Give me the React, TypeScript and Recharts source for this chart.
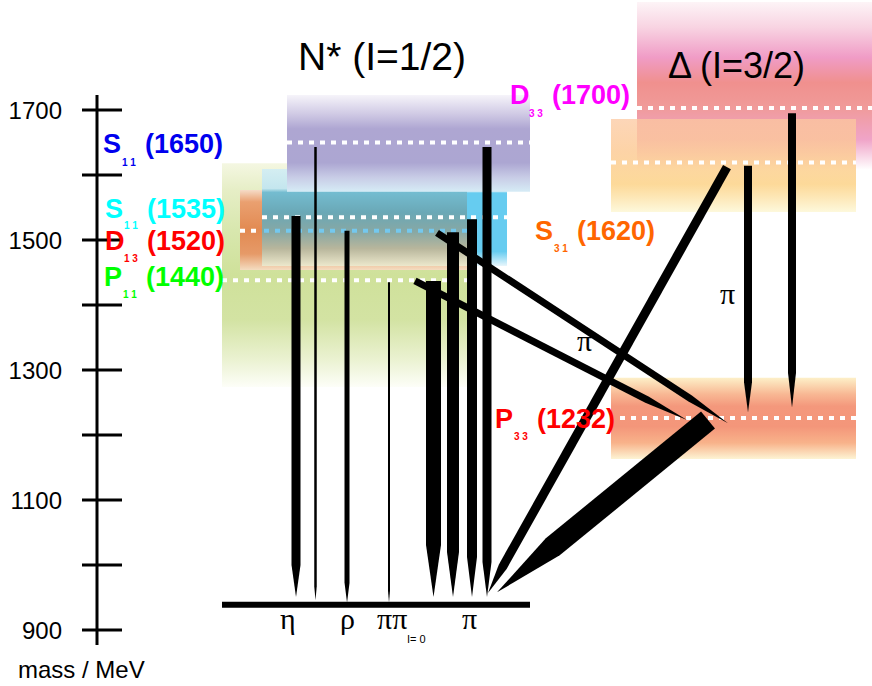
import React from 'react';
import { ComposedChart, XAxis, YAxis, ReferenceArea, ReferenceLine } from 'recharts';

// N* resonances (I=1/2): drawn centre mass and band edges, MeV
const nStarNames = ['S11(1650)', 'S11(1535)', 'D13(1520)', 'P11(1440)'];
const nStarMass = [1650, 1535, 1514, 1438];
const nStarLow = [1574, 1460, 1454, 1274];
const nStarHigh = [1723, 1609, 1577, 1618];
const nStarColors = ['#0000ee', '#00ffff', '#ff0000', '#00ff00'];

// Δ resonances (I=3/2)
const deltaNames = ['D33(1700)', 'S31(1620)', 'P33(1232)'];
const deltaMass = [1703, 1619, 1226];
const deltaLow = [1608, 1543, 1163];
const deltaHigh = [1866, 1686, 1288];
const deltaColors = ['#ff00ff', '#ff6600', '#ff0000'];

const nucleonMass = 939;
const massTicks = [900, 1000, 1100, 1200, 1300, 1400, 1500, 1600, 1700];
const massTickLabels = [900, 1100, 1300, 1500, 1700];

// decay arrows: start mass -> mass at the arrow tip
const decayNames = [
  'S11(1535)→Nη', 'S11(1650)→Nη', 'D13→Nρ', 'P11→N(ππ)', 'P11→Nπ', 'D13→Nπ', 'S11(1535)→Nπ',
  'S11(1650)→Nπ', 'D13→Δπ', 'P11→Δπ', 'S31→Nπ', 'P33→Nπ', 'S31→Δπ', 'D33→Δπ',
];
const decayFrom = [1537, 1643, 1514, 1435, 1437, 1512, 1532, 1643, 1511, 1437, 1612, 1223, 1614, 1695];
const decayTo = [951, 946, 942, 942, 951, 951, 951, 951, 1218, 1223, 957, 958, 1235, 1242];
const mesonLabels = ['η', 'ρ', 'ππ', 'π'];

// ---- layout (pixels along the horizontal, which has no physical meaning) ----
const W = 872;
const H = 686;
const AXIS_X = 97;

const bandParts = [
  { x: [222, 467], grad: 'gP11', i: 3 },
  { x: [240, 467], grad: 'gD13', i: 2 },
  { x: [262, 467], grad: 'gS1535mix', i: 1 },
  { x: [467, 507], grad: 'gS1535', i: 1 },
  { x: [287, 530], grad: 'gS1650', i: 0 },
];
const deltaBandX = [[637, 872], [611, 856], [611, 856]];
const deltaGrad = ['gD33', 'gS31', 'gP33'];
const nStarLineX = [[287, 530], [262, 507], [240, 262], [222, 467]];
const deltaLineX = [[637, 872], [611, 856], [620, 856]];
const nStarLabelPos = [[103, 153, 13], [105, 218, 11], [105, 250, 12], [104, 286, 12]];
const deltaLabelPos = [[510, 104, 13], [535, 240, 12], [495, 428, 12]];

const decayLayout = [
  { x1: 296, x2: 296, w: 9, t: 32 },
  { x1: 315.5, x2: 315.5, w: 2.5, t: 14 },
  { x1: 347, x2: 347, w: 5, t: 20 },
  { x1: 389, x2: 389, w: 2, t: 12 },
  { x1: 433.5, x2: 433.5, w: 15, t: 52 },
  { x1: 453, x2: 453, w: 12, t: 45 },
  { x1: 472, x2: 472, w: 10, t: 40 },
  { x1: 487, x2: 487, w: 9, t: 35 },
  { x1: 437, x2: 728, w: 7, t: 45 },
  { x1: 415, x2: 687, w: 7, t: 45 },
  { x1: 727, x2: 488, w: 9, t: 30 },
  { x1: 708, x2: 497, w: 22, t: 72 },
  { x1: 748, x2: 748, w: 8, t: 30 },
  { x1: 792, x2: 792, w: 8, t: 35 },
];

const SANS = 'Liberation Sans, Arial, sans-serif';
const SERIF = 'Liberation Serif, Times New Roman, serif';

const gradients: Record<string, [number, string, number?][]> = {
  gP11: [[0, '#f4f7e2'], [0.12, '#e6eec6'], [0.3, '#d8e7ae'], [0.5, '#cfe19a'], [0.7, '#d3e3a3'], [0.88, '#ebf2d2'], [1, '#fdfef8']],
  gD13: [[0, '#f5dcc8'], [0.15, '#eaa070'], [0.5, '#e28a52'], [0.8, '#e69a68'], [1, '#f4dcc0']],
  gS1535mix: [[0, '#d4eef2'], [0.2, '#c4e6ee'], [0.24, '#74bcd0'], [0.45, '#6aa8b6'], [0.65, '#88a8a4'], [0.82, '#b8b69c'], [1, '#ece8cc']],
  gS1535: [[0, '#d8f0f8'], [0.22, '#c8e8f4'], [0.25, '#66ccf0'], [0.85, '#66ccf0'], [1, '#e8f6fc']],
  gS1650: [[0, '#f6f4fa'], [0.2, '#cfc9e4'], [0.35, '#aea6d2'], [0.7, '#aca6d2'], [0.85, '#c8cce6'], [1, '#d6ecf6']],
  gD33: [[0, '#fdf4f7'], [0.15, '#f8d4e2'], [0.33, '#f09cc6'], [0.48, '#f0908e'], [0.62, '#f09a98'], [0.82, '#f0a4c8'], [1, '#ffffff']],
  gS31: [[0, '#fcc8a0', 0.75], [0.35, '#fcc890', 0.8], [0.7, '#fcd080', 0.8], [1, '#fdf8d8', 0.9]],
  gP33: [[0, '#fdf0c8'], [0.2, '#f8b894'], [0.35, '#f4987c'], [0.6, '#f4967a'], [0.8, '#f8b28a'], [1, '#fdf4d4']],
};

const taperedArrow = (w: number, taper: number) => (p: any) => {
  const { x1, y1, x2, y2 } = p;
  const dx = x2 - x1;
  const dy = y2 - y1;
  const len = Math.hypot(dx, dy) || 1;
  const ux = dx / len;
  const uy = dy / len;
  const nx = (-uy * w) / 2;
  const ny = (ux * w) / 2;
  const bx = x2 - ux * taper;
  const by = y2 - uy * taper;
  const pts = [
    [x1 + nx, y1 + ny], [bx + nx, by + ny], [x2, y2], [bx - nx, by - ny], [x1 - nx, y1 - ny],
  ];
  return <polygon points={pts.map(q => q.join(',')).join(' ')} fill="#000" />;
};

const MassTick = (props: any) => {
  const { x, y, payload } = props;
  const v = payload.value;
  return (
    <g>
      <line x1={x - 15} x2={x + 25} y1={y} y2={y} stroke="#000" strokeWidth={3} />
      {massTickLabels.includes(v) && (
        <text x={x - 35} y={y} dy="0.36em" textAnchor="end" fontSize={24} fontFamily={SANS} fill="#000">
          {v}
        </text>
      )}
    </g>
  );
};

const ResonanceLabel = ({ name, color, x, y, subDy }: any) => {
  const letter = name[0];
  const sub = name.slice(1, 3).split('').join(' ');
  const mass = name.slice(3);
  return (
    <g fill={color} fontFamily={SANS} fontWeight="bold">
      <text x={x} y={y} fontSize={27}>{letter}</text>
      <text x={x + 19} y={y + subDy} fontSize={10}>{sub}</text>
      <text x={x + 42} y={y} fontSize={27}>{mass}</text>
    </g>
  );
};

export default function App() {
  return (
    <div style={{ position: 'absolute', left: 0, top: 0, width: W, height: H, background: '#fff' }}>
      <ComposedChart width={W} height={H} margin={{ top: 95, right: 0, bottom: 41, left: 0 }}>
        <defs>
          {Object.keys(gradients).map(id => (
            <linearGradient key={id} id={id} x1="0" y1="0" x2="0" y2="1">
              {gradients[id].map(([o, c, op], k) => (
                <stop key={k} offset={o} stopColor={c} stopOpacity={op ?? 1} />
              ))}
            </linearGradient>
          ))}
        </defs>
        <XAxis type="number" dataKey="x" domain={[AXIS_X, W]} allowDataOverflow hide />
        <YAxis
          type="number"
          domain={[877, 1723]}
          allowDataOverflow
          ticks={massTicks}
          interval={0}
          width={AXIS_X}
          tickSize={0}
          tickMargin={0}
          tickLine={false}
          axisLine={{ stroke: '#000', strokeWidth: 3 }}
          tick={<MassTick />}
        />

        {/* resonance bands */}
        {bandParts.map((b, k) => (
          <ReferenceArea
            key={`nb${k}`}
            x1={b.x[0]}
            x2={b.x[1]}
            y1={nStarLow[b.i]}
            y2={nStarHigh[b.i]}
            fill={`url(#${b.grad})`}
            fillOpacity={1}
            stroke="none"
            ifOverflow="visible"
          />
        ))}
        {deltaNames.map((n, i) => (
          <ReferenceArea
            key={`db${n}`}
            x1={deltaBandX[i][0]}
            x2={deltaBandX[i][1]}
            y1={deltaLow[i]}
            y2={deltaHigh[i]}
            fill={`url(#${deltaGrad[i]})`}
            fillOpacity={1}
            stroke="none"
            ifOverflow="visible"
          />
        ))}

        {/* pole positions */}
        {nStarNames.map((n, i) => (
          <ReferenceLine
            key={`nl${n}`}
            segment={[{ x: nStarLineX[i][0], y: nStarMass[i] }, { x: nStarLineX[i][1], y: nStarMass[i] }]}
            stroke="#fff"
            strokeWidth={4}
            strokeDasharray="5 6"
            ifOverflow="visible"
          />
        ))}
        <ReferenceLine
          segment={[{ x: 264, y: nStarMass[2] }, { x: 480, y: nStarMass[2] }]}
          stroke="#74c8ee"
          strokeWidth={4}
          strokeDasharray="5 6"
          ifOverflow="visible"
        />
        {deltaNames.map((n, i) => (
          <ReferenceLine
            key={`dl${n}`}
            segment={[{ x: deltaLineX[i][0], y: deltaMass[i] }, { x: deltaLineX[i][1], y: deltaMass[i] }]}
            stroke="#fff"
            strokeWidth={4}
            strokeDasharray="5 6"
            ifOverflow="visible"
          />
        ))}

        {/* nucleon ground state */}
        <ReferenceLine
          segment={[{ x: 222, y: nucleonMass }, { x: 530, y: nucleonMass }]}
          stroke="#000"
          strokeWidth={6}
          ifOverflow="visible"
        />

        {/* decays */}
        {decayNames.map((n, i) => (
          <ReferenceLine
            key={`d${n}`}
            segment={[{ x: decayLayout[i].x1, y: decayFrom[i] }, { x: decayLayout[i].x2, y: decayTo[i] }]}
            shape={taperedArrow(decayLayout[i].w, decayLayout[i].t)}
            ifOverflow="visible"
          />
        ))}
      </ComposedChart>

      {/* text layer on top of the bands */}
      <svg width={W} height={H} style={{ position: 'absolute', left: 0, top: 0, pointerEvents: 'none' }}>
        {nStarNames.map((n, i) => (
          <ResonanceLabel key={n} name={n} color={nStarColors[i]} x={nStarLabelPos[i][0]} y={nStarLabelPos[i][1]} subDy={nStarLabelPos[i][2]} />
        ))}
        {deltaNames.map((n, i) => (
          <ResonanceLabel key={n} name={n} color={deltaColors[i]} x={deltaLabelPos[i][0]} y={deltaLabelPos[i][1]} subDy={deltaLabelPos[i][2]} />
        ))}
        <text x={298} y={70} fontSize={39} fontFamily={SANS} fill="#000">N* (I=1/2)</text>
        <text x={668} y={78} fontSize={36} fontFamily={SANS} fill="#000">Δ (I=3/2)</text>
        <text x={18} y={678} fontSize={24} fontFamily={SANS} fill="#000">mass / MeV</text>
        <g fontFamily={SERIF} fontSize={30} fill="#000">
          <text x={280} y={629}>{mesonLabels[0]}</text>
          <text x={340} y={629}>{mesonLabels[1]}</text>
          <text x={377} y={629}>{mesonLabels[2]}</text>
          <text x={462} y={629}>{mesonLabels[3]}</text>
          <text x={577} y={351}>{mesonLabels[3]}</text>
          <text x={720} y={304}>{mesonLabels[3]}</text>
        </g>
        <text x={407} y={643} fontSize={11} fontFamily={SANS} fill="#000">I= 0</text>
      </svg>
    </div>
  );
}
